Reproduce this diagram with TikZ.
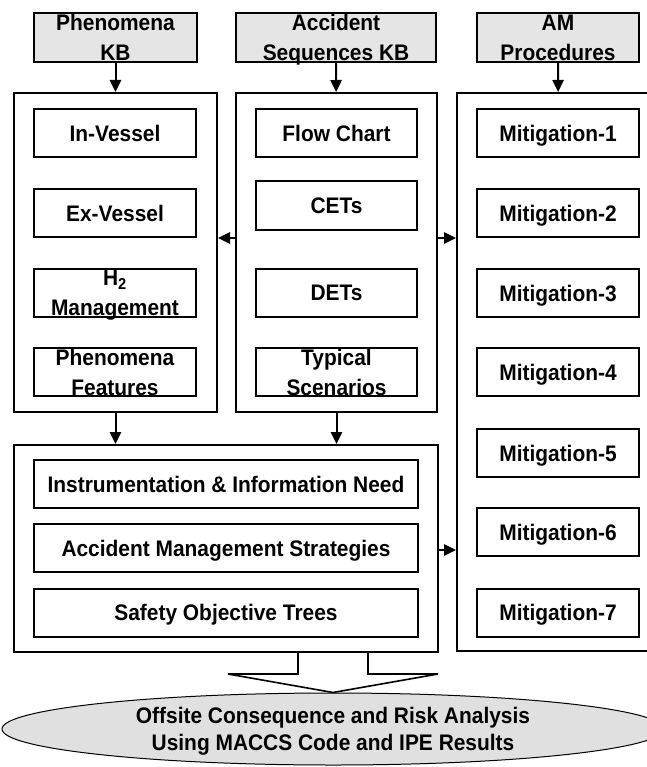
\documentclass[tikz,border=0pt]{standalone}
\usepackage{fontspec}
\setmainfont{Liberation Sans}[UprightFont=*-Bold, FakeStretch=0.93]
\usetikzlibrary{arrows.meta,shapes.geometric}
\definecolor{kbgray}{gray}{0.9}
\definecolor{ovalgray}{gray}{0.88}
\tikzset{
  panel/.style = {draw, line width=0.5mm},
  box/.style   = {draw, line width=0.5mm, fill=white, minimum width=40.5mm, minimum height=12mm,
                  inner sep=0pt, align=center, text depth=0pt},
  kb/.style    = {box, fill=kbgray, minimum height=12.25mm},
  wide/.style  = {box, minimum width=96mm},
  oval/.style  = {ellipse, draw, line width=0.25mm, fill=ovalgray, minimum width=165.5mm,
                  minimum height=18mm, inner sep=0pt, align=center, text depth=0pt,
                  font=\fontsize{16pt}{19.2pt}\selectfont},
  arr/.style   = {-{Triangle[length=3mm,width=2.8mm]}, line width=0.5mm},
}

\begin{document}
\begin{tikzpicture}[x=0.25mm,y=-0.25mm,font=\fontsize{16pt}{21.3pt}\selectfont]
  \useasboundingbox (0,0) rectangle (647,767);
  % knowledge bases
  \node[kb, minimum width=40.75mm] (pkb) at (115.5,37.5) {Phenomena\\KB};
  \node[kb, minimum width=50mm] (askb) at (336,37.5) {Accident\\Sequences KB};
  \node[kb] (amp) at (558,37.5) {AM\\Procedures};
  % panels
  \node[panel, minimum width=50.75mm, minimum height=79.75mm] (pan1) at (115.5,252.5) {};
  \node[panel, minimum width=50.25mm, minimum height=79.75mm] (pan2) at (336.5,252.5) {};
  \node[panel, minimum width=50.75mm, minimum height=139.5mm] (pan3) at (558.5,372) {};
  \node[panel, minimum width=106mm, minimum height=51.75mm] (low) at (226,548.5) {};
  % phenomena
  \node[box] (inv) at (115,133) {In-Vessel};
  \node[box] (exv) at (115,213) {Ex-Vessel};
  \node[box] (hyd) at (115,293) {H\textsubscript{2}\\Management};
  \node[box] (phf) at (115,372) {Phenomena\\Features};
  % accident sequences
  \node[box, minimum width=40.25mm] (flc) at (336.5,133) {Flow Chart};
  \node[box, minimum width=40.25mm] (cet) at (336.5,205.5) {CETs};
  \node[box, minimum width=40.25mm] (det) at (336.5,292.5) {DETs};
  \node[box, minimum width=40.25mm] (tys) at (336.5,372) {Typical\\Scenarios};
  % mitigation
  \foreach \i/\y in {1/133,2/213,3/293,4/372,5/453,6/532,7/612.5}
    \node[box] (mit\i) at (558,\y) {Mitigation-\i};
  % strategies
  \node[wide] (ins) at (226,484) {Instrumentation \& Information Need};
  \node[wide] (ams) at (226,548) {Accident Management Strategies};
  \node[wide] (sot) at (226,612.5) {Safety Objective Trees};
  % links
  \draw[arr] (pkb) -- (pan1);
  \draw[arr] (askb) -- (pan2);
  \draw[arr] (amp) -- (pan3);
  \draw[arr] (pan2.west |- 0,238) -- (pan1.east |- 0,238);
  \draw[arr] (pan2.east |- 0,238) -- (pan3.west |- 0,238);
  \draw[arr] (pan1.south) -- (low.north -| pan1.south);
  \draw[arr] (pan2.south) -- (low.north -| pan2.south);
  \draw[arr] (low.east |- 0,550) -- (pan3.west |- 0,550);
  % result
  \node[oval] (res) at (333,729) {Offsite Consequence and Risk Analysis\\Using MACCS Code and IPE Results};
  \draw[line width=0.4mm] (298,653) -- (298,674) -- (228,674) -- (res.north)
     -- (438,674) -- (368,674) -- (368,653);
\end{tikzpicture}
\end{document}
